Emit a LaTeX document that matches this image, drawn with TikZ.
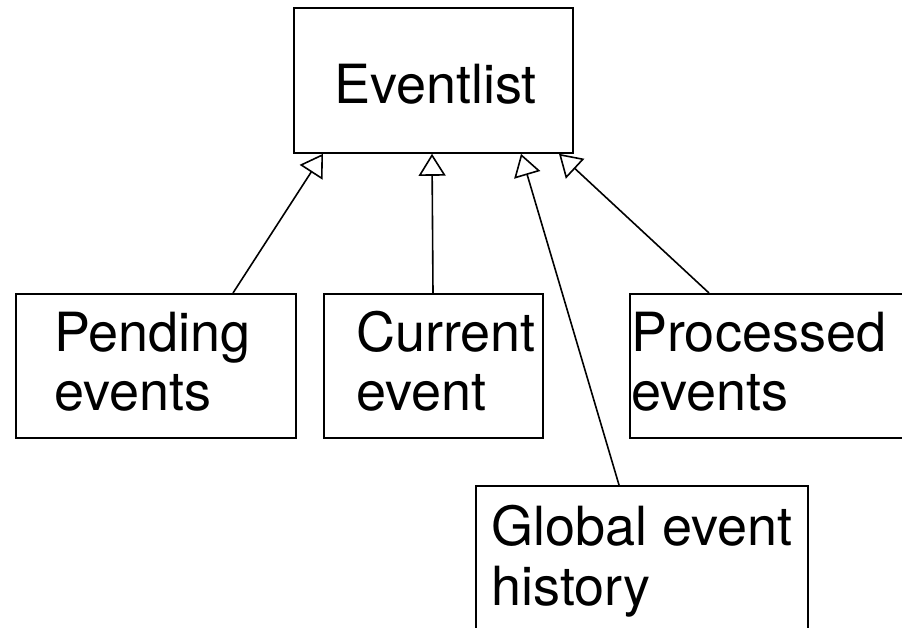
\documentclass[tikz,border=0pt]{standalone}
\usepackage{fontspec}
\setmainfont{TeX Gyre Heros}
\usetikzlibrary{arrows.meta}
\tikzset{
  box/.style={draw, line width=1.8pt, rectangle, inner sep=0pt, anchor=north west},
  txt/.style={inner sep=0pt, anchor=base west, font=\fontsize{54}{59}\selectfont},
  inherit/.style={line width=1.6pt, -{Triangle[open, length=22pt, width=27pt, line width=1.6pt]}},
}
\begin{document}
\begin{tikzpicture}[x=1pt, y=-1pt]
  \useasboundingbox (0,0) rectangle (902,627);
  \clip (0,0) rectangle (902,627);
  % class boxes
  \node[box, minimum width=279pt, minimum height=145pt] (evl) at (293,7) {};
  \node[box, minimum width=280pt, minimum height=144pt] (pend) at (15,293) {};
  \node[box, minimum width=219pt, minimum height=144pt] (cur) at (323,293) {};
  \node[box, minimum width=285pt, minimum height=144pt] (proc) at (629,293) {};
  \node[box, minimum width=332pt, minimum height=160pt] (glob) at (475,485) {};
  % labels
  \node[txt] (evlT) at (334,103) {Eventlist};
  \node[txt] (pendA) at (54,351) {Pending};
  \node[txt] (pendB) at (54,410) {events};
  \node[txt] (curA) at (356,351) {Current};
  \node[txt] (curB) at (356,410) {event};
  \node[txt] (procA) at (631,351) {Processed};
  \node[txt] (procB) at (631,410) {events};
  \node[txt] (globA) at (491,545) {Global event};
  \node[txt] (globB) at (491,605) {history};
  % generalisation arrows
  \draw[inherit] ([xshift=218pt]pend.north west) -- ([xshift=30pt]evl.south west);
  \draw[inherit] ([xshift=110pt]cur.north west) -- ([xshift=139pt]evl.south west);
  \draw[inherit] ([xshift=144pt]glob.north west) -- ([xshift=228pt]evl.south west);
  \draw[inherit] ([xshift=80pt]proc.north west) -- ([xshift=266pt]evl.south west);
\end{tikzpicture}
\end{document}
